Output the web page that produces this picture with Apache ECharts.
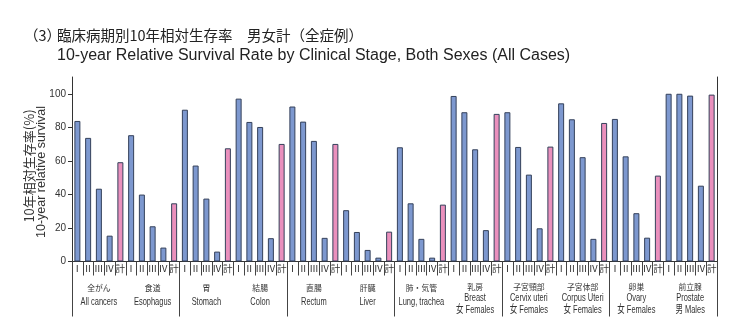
<!DOCTYPE html>
<html><head><meta charset="utf-8">
<script src="https://cdn.jsdelivr.net/npm/echarts@6/dist/echarts.min.js"></script>
<style>html,body{margin:0;padding:0;background:#fff}#c{width:736px;height:331px}</style>
</head><body><div id="c"></div>
<script>
// ---- data ----
var stages = ['Ⅰ','Ⅱ','Ⅲ','Ⅳ','計'];
var sitesJa = ['全がん','食道','胃','結腸','直腸','肝臓','肺・気管','乳房','子宮頸部','子宮体部','卵巣','前立腺'];
var sitesEn = ['All cancers','Esophagus','Stomach','Colon','Rectum','Liver','Lung, trachea','Breast','Cervix uteri','Corpus Uteri','Ovary','Prostate'];
var sitesSex = ['','','','','','','','女 Females','女 Females','女 Females','女 Females','男 Males'];
var allCancers = [83.8, 73.7, 43.4, 15.4, 59.2];
var esophagus  = [75.3, 39.9, 21.0, 8.3, 34.7];
var stomach    = [90.5, 57.2, 37.5, 5.9, 67.5];
var colon      = [97.1, 83.2, 80.2, 13.9, 70.1];
var rectum     = [92.4, 83.4, 71.9, 14.1, 70.1];
var liver      = [30.6, 17.6, 6.9, 2.3, 17.8];
var lung       = [68.1, 34.7, 13.5, 2.3, 33.9];
var breast     = [98.7, 89.0, 66.9, 18.7, 88.0];
var cervix     = [89.0, 68.3, 51.8, 19.8, 68.5];
var corpus     = [94.3, 84.8, 62.2, 13.5, 82.6];
var ovary      = [85.0, 62.7, 28.8, 14.2, 51.2];
var prostate   = [100, 100, 98.9, 45.2, 99.5];
var yTicks = [0, 20, 40, 60, 80, 100];

var siteValues = [allCancers, esophagus, stomach, colon, rectum, liver, lung, breast, cervix, corpus, ovary, prostate];
var BLUE = '#7d98cf', PINK = '#ea90bd', EDGE = '#34405a';
var cats = [], barData = [];
siteValues.forEach(function (vals) {
  vals.forEach(function (v, i) {
    cats.push(stages[i]);
    barData.push({ value: v, itemStyle: { color: i === 4 ? PINK : BLUE } });
  });
});

var chart = echarts.init(document.getElementById('c'), null, { renderer: 'canvas' });
var titleGfx = [
  { type: 'text', left: 24, top: 28, style: { text: '（3）', font: "14.5px 'Noto Sans CJK JP'", fill: '#222' } },
  { type: 'text', left: 57, top: 28, style: { text: '臨床病期別10年相対生存率　男女計（全症例）', font: "14.5px 'Noto Sans CJK JP'", fill: '#222' } },
  { type: 'text', left: 57, top: 47.5, style: { text: '10-year Relative Survival Rate by Clinical Stage, Both Sexes (All Cases)', font: "16px 'Liberation Sans',Arial,sans-serif", fill: '#222' } },
  { type: 'text', x: 29, y: 166, rotation: Math.PI / 2, style: { text: '10年相対生存率(%)', font: "13px 'Noto Sans CJK JP'", fill: '#333', align: 'center', verticalAlign: 'middle' } },
  { type: 'text', x: 42, y: 172, rotation: Math.PI / 2, style: { text: '10-year relative survival', font: "12.5px 'Liberation Sans',Arial,sans-serif", fill: '#333', align: 'center', verticalAlign: 'middle' } }
];
chart.setOption({
  animation: false,
  backgroundColor: '#fff',
  grid: { left: 72, right: 19, top: 77, bottom: 69.5, containLabel: false },
  xAxis: [{
    type: 'category', data: cats, position: 'bottom',
    axisLine: { show: true, lineStyle: { color: '#333', width: 1 } },
    axisTick: { show: true, length: 14, lineStyle: { color: '#444', width: 1 } },
    axisLabel: { interval: 0, margin: 3, fontSize: 9.5, color: '#333', fontFamily: "'Liberation Serif','Noto Sans CJK JP',serif" }
  }, {
    type: 'category', data: sitesEn, position: 'bottom',
    axisLine: { show: false },
    axisTick: { show: true, length: 55, lineStyle: { color: '#444', width: 1 } },
    axisLabel: { show: false }
  }],
  yAxis: [{
    type: 'value', min: 0, max: 110, interval: 20,
    splitLine: { show: false },
    axisLine: { show: true, lineStyle: { color: '#333', width: 1 } },
    axisTick: { show: true, length: 4, customValues: yTicks, lineStyle: { color: '#333' } },
    axisLabel: { margin: 6, fontSize: 10, color: '#333', fontFamily: "'Liberation Sans',Arial,sans-serif", customValues: yTicks }
  }, {
    type: 'value', min: 0, max: 110, position: 'right',
    splitLine: { show: false },
    axisLine: { show: true, lineStyle: { color: '#333', width: 1 } },
    axisTick: { show: false }, axisLabel: { show: false }
  }],
  series: [{
    type: 'bar', xAxisIndex: 0, yAxisIndex: 0, data: barData, barWidth: 6,
    itemStyle: { borderColor: EDGE, borderWidth: 1 }
  }],
  graphic: titleGfx
});

// group labels (condensed), positioned from the category axis
var gfx = titleGfx.slice();
var EN_FONT = "11.5px 'Liberation Sans','Noto Sans CJK JP',sans-serif";
var JA_FONT = "8.5px 'Noto Sans CJK JP',sans-serif";
sitesJa.forEach(function (ja, g) {
  var x0 = chart.convertToPixel({ xAxisIndex: 0 }, g * 5);
  var x1 = chart.convertToPixel({ xAxisIndex: 0 }, g * 5 + 4);
  var cx = (x0 + x1) / 2;
  var lines;
  if (sitesSex[g]) {
    lines = [[ja, 287, JA_FONT, 0.92], [sitesEn[g], 298, EN_FONT, 0.65], [sitesSex[g], 309.5, EN_FONT, 0.65]];
  } else {
    lines = [[ja, 288, JA_FONT, 0.92], [sitesEn[g], 302, EN_FONT, 0.65]];
  }
  lines.forEach(function (l) {
    gfx.push({ type: 'text', x: cx, y: l[1], scaleX: l[3], silent: true,
      style: { text: l[0], font: l[2], fill: '#333', align: 'center', verticalAlign: 'middle' } });
  });
});
chart.setOption({ graphic: gfx }, { replaceMerge: ['graphic'] });
</script></body></html>
